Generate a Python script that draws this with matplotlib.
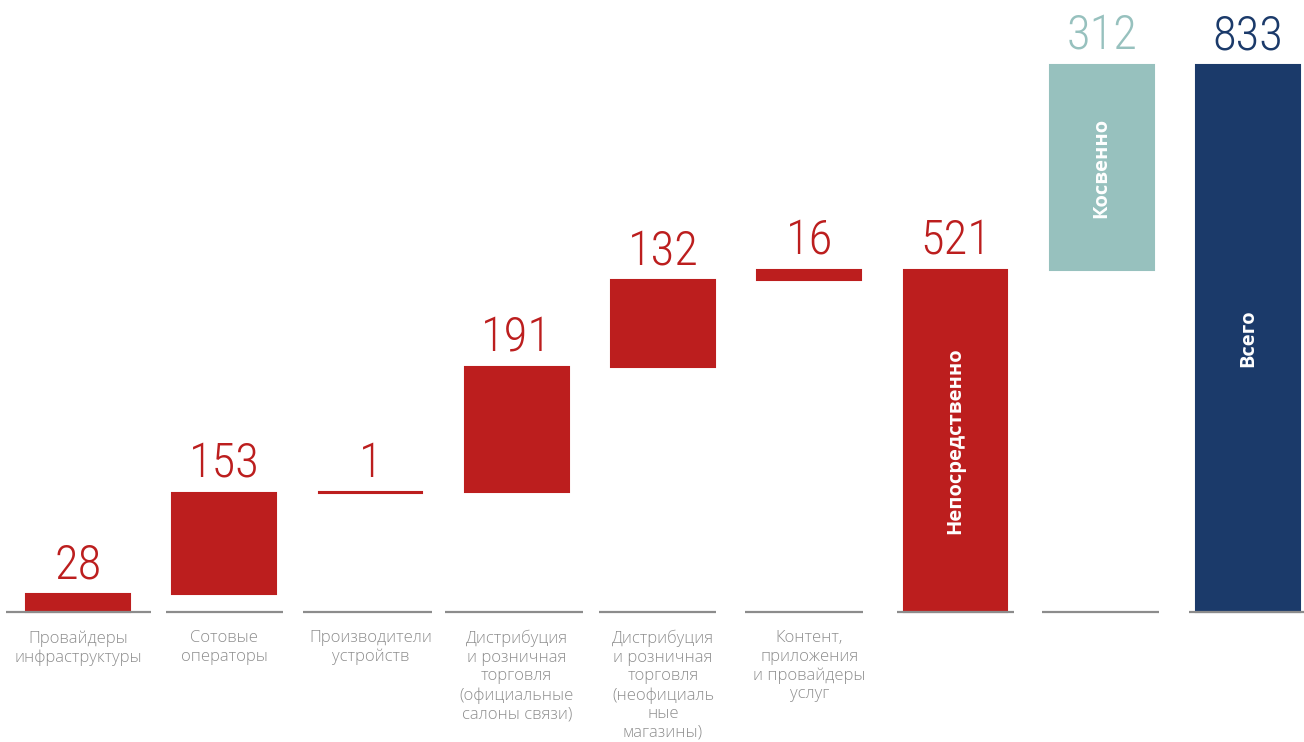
import matplotlib.pyplot as plt

# Economic effect breakdown (waterfall): contributions by sector, then totals
categories = [
    "Провайдеры\nинфраструктуры",
    "Сотовые\nоператоры",
    "Производители\nустройств",
    "Дистрибуция\nи розничная\nторговля\n(официальные\nсалоны связи)",
    "Дистрибуция\nи розничная\nторговля\n(неофициаль\nные\nмагазины)",
    "Контент,\nприложения\nи провайдеры\nуслуг",
    "",
    "",
    "",
]
step_values = [28, 153, 1, 191, 132, 16]
direct_total = 521
indirect_total = 312
grand_total = 833
bar_texts = ["Непосредственно", "Косвенно", "Всего"]

RED = "#BC1E1E"
TEAL = "#97C1BE"
NAVY = "#1B3A6A"
GRAY = "#8C8C8C"
LABEL_GRAY = "#8E8E8E"
NUM_FONT = ["Roboto Condensed", "DejaVu Sans Condensed", "Liberation Sans Narrow", "DejaVu Sans"]

# baseline segment extents around each bar centre (in category units)
line_left = [0.49, 0.40, 0.46, 0.49, 0.44, 0.44, 0.40, 0.41, 0.40]
line_right = [0.50, 0.40, 0.42, 0.45, 0.36, 0.37, 0.40, 0.39, 0.39]

fig = plt.figure(figsize=(13.04, 7.42), dpi=100)
ax = fig.add_axes([0, 0, 1, 1])
ax.set_xlim(-0.533, 8.383)
ax.set_ylim(-198, 932)
ax.axis("off")

# build bar bottoms / heights for the waterfall
bottoms, heights, colors = [], [], []
running = 0
for v in step_values:
    bottoms.append(running)
    heights.append(v)
    colors.append(RED)
    running += v
bottoms += [0, direct_total, 0]
heights += [direct_total, indirect_total, grand_total]
colors += [RED, TEAL, NAVY]

x = list(range(len(heights)))
bars = ax.bar(x, heights, bottom=bottoms, width=0.71, color=colors,
              edgecolor=colors, linewidth=1.5, zorder=2)

# value labels above bars
for xi, b, h, c in zip(x, bottoms, heights, colors):
    ax.annotate(str(h), (xi, b + h), xytext=(0, 11), textcoords="offset points",
                ha="center", va="baseline", color=c, fontsize=35,
                family=NUM_FONT, fontweight="light", fontstretch="condensed")

# rotated labels inside the summary bars
for xi, txt in zip(x[6:], bar_texts):
    b = bottoms[xi]
    h = heights[xi]
    ax.text(xi, b + h / 2, txt, rotation=90, ha="center", va="center",
            color="white", fontsize=14.5, fontweight="bold", family="Open Sans")

# short gray baseline under each category
for xi, l, r in zip(x, line_left, line_right):
    ax.plot([xi - l, xi + r], [0, 0], color=GRAY, lw=1.6,
            solid_capstyle="butt", zorder=3)

# category names below
for xi, name in zip(x, categories):
    if name:
        ax.annotate(name, (xi, 0), xytext=(0, -13), textcoords="offset points",
                    ha="center", va="top", color=LABEL_GRAY, fontsize=12,
                    family="Open Sans", fontweight="light", linespacing=1.21)

fig.savefig("out.png", dpi=100)
